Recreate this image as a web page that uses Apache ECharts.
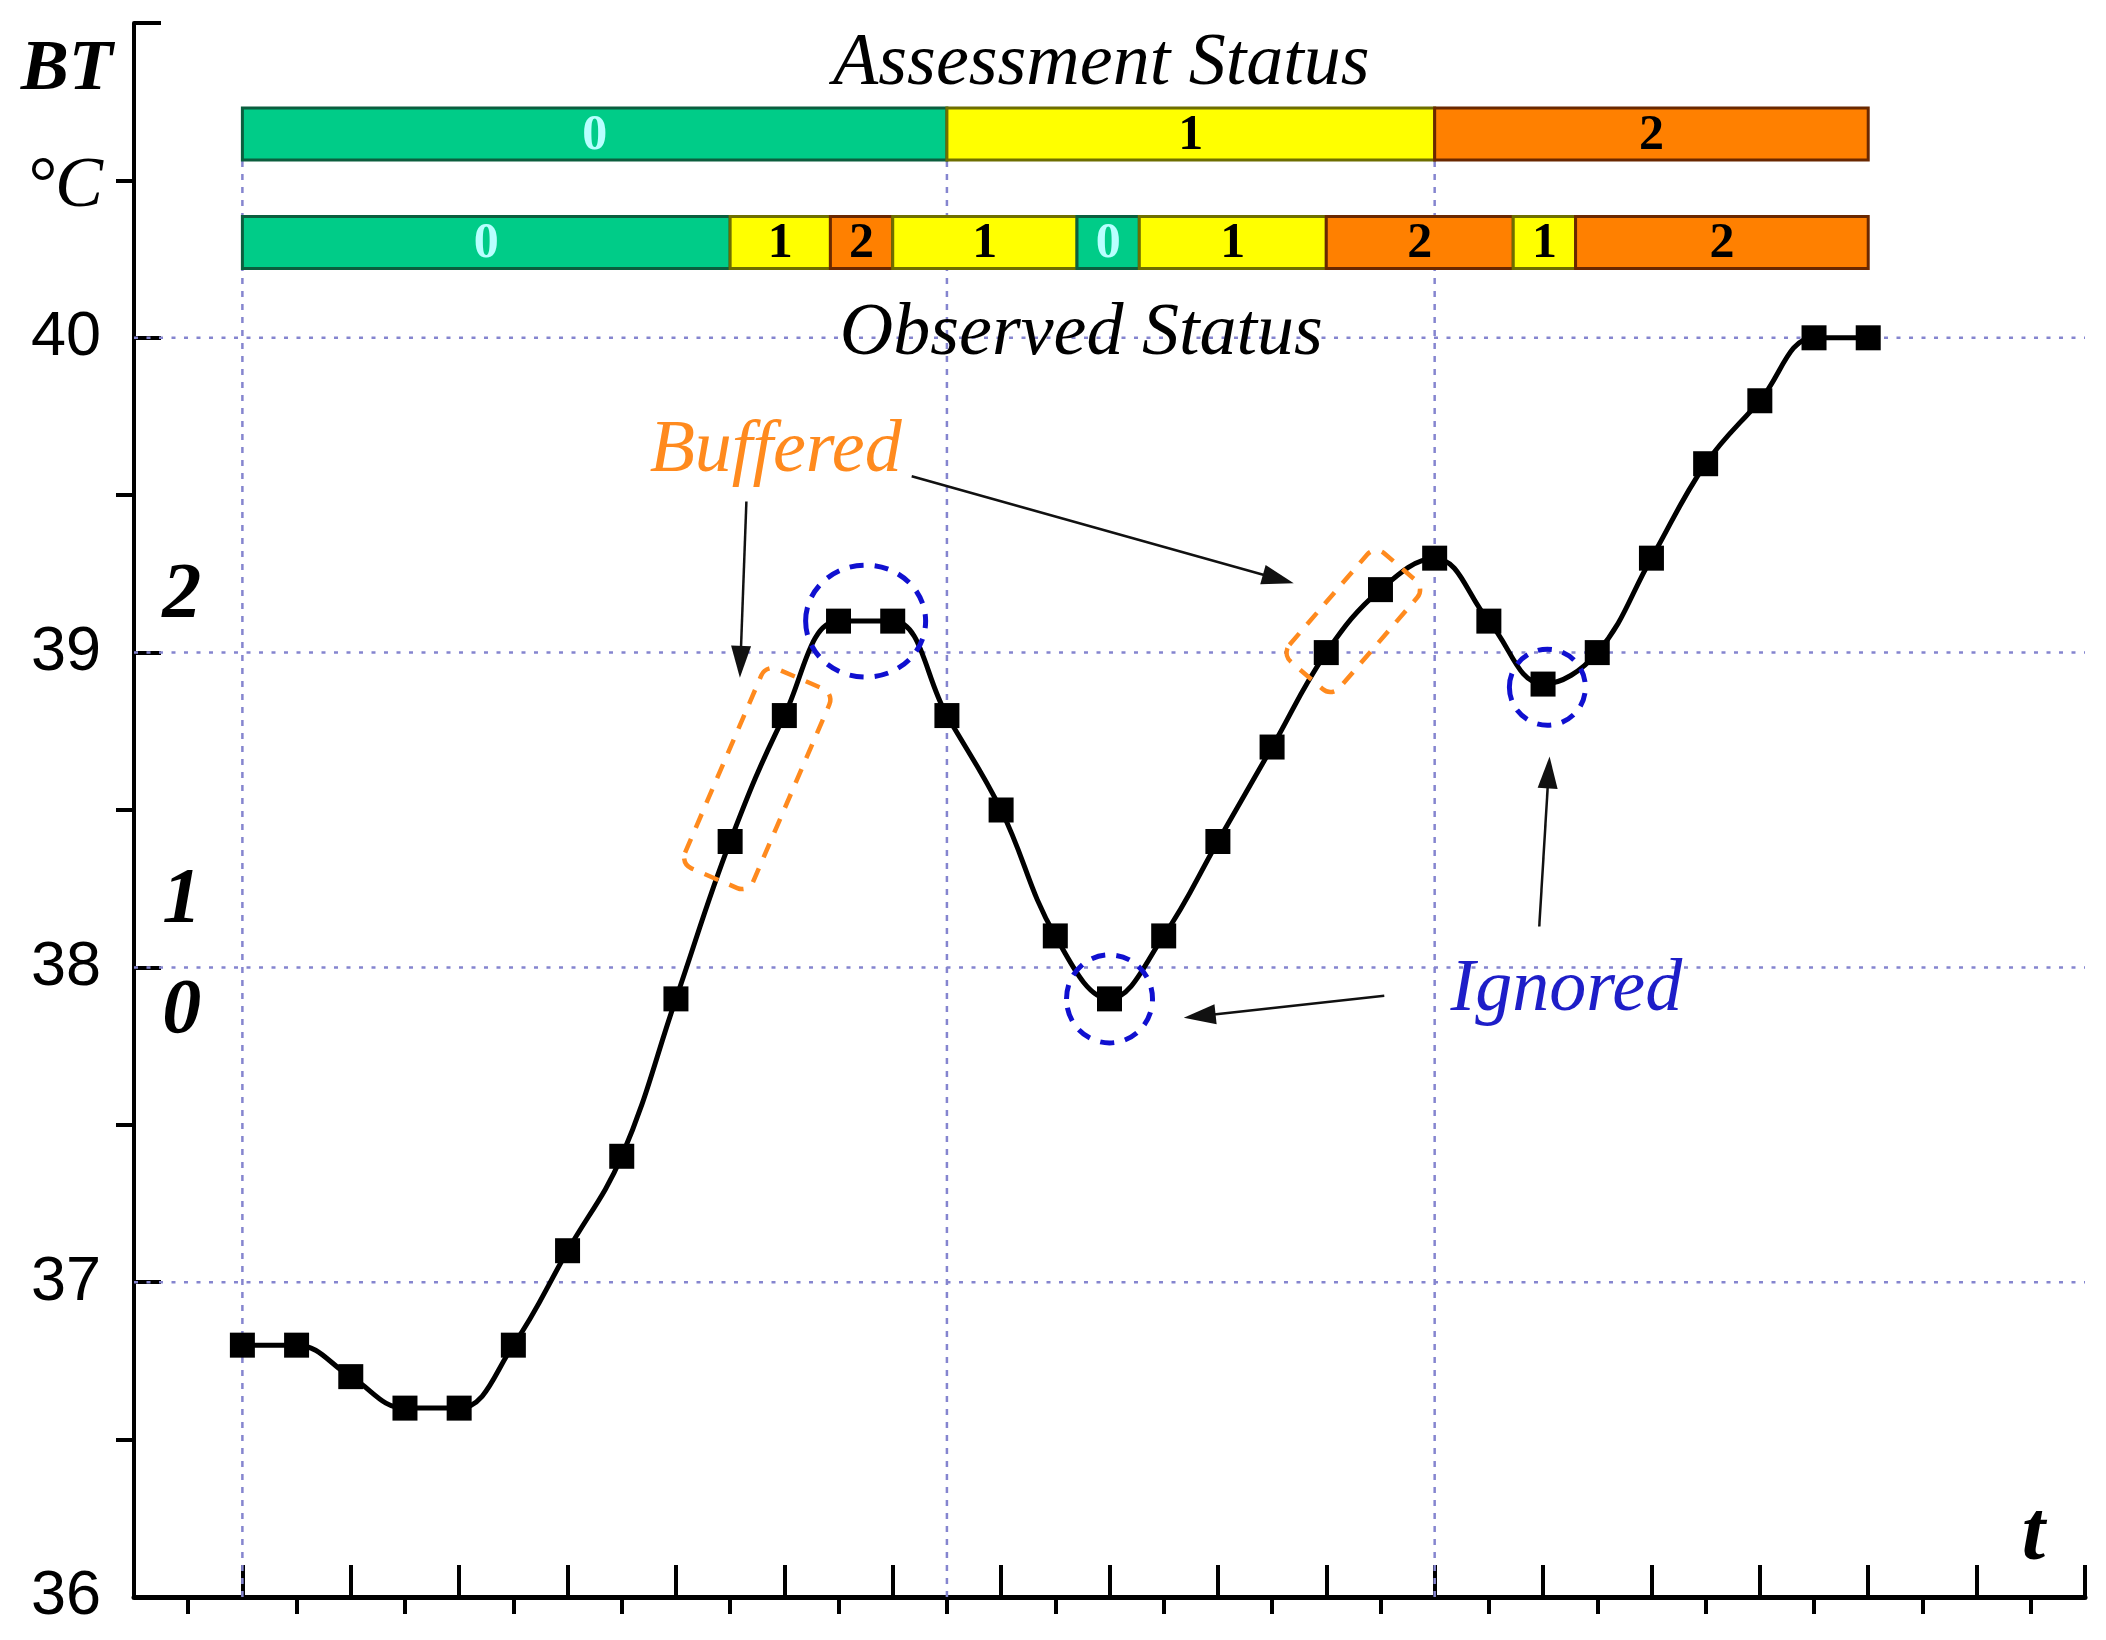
<!DOCTYPE html>
<html>
<head>
<meta charset="utf-8">
<script src="https://cdn.jsdelivr.net/npm/echarts@6/dist/echarts.min.js"></script>
<style>
  html, body { margin: 0; padding: 0; background: #fff; }
  #chart { width: 2106px; height: 1640px; }
</style>
</head>
<body>
<div id="chart"></div>
<script>
// time steps and measured body temperature (BT, °C)
const timeSteps = [2, 3, 4, 5, 6, 7, 8, 9, 10, 11, 12, 13, 14, 15, 16, 17, 18, 19, 20, 21, 22, 23, 24, 25, 26, 27, 28, 29, 30, 31, 32];
const bodyTemp = [36.8, 36.8, 36.7, 36.6, 36.6, 36.8, 37.1, 37.4, 37.9, 38.4, 38.8, 39.1, 39.1, 38.8, 38.5, 38.1, 37.9, 38.1, 38.4, 38.7, 39.0, 39.2, 39.3, 39.1, 38.9, 39.0, 39.3, 39.6, 39.8, 40.0, 40.0];

const yLabels = ['36', '37', '38', '39', '40'];

// status segments: [from, to, status]
const assessmentSegments = [[2, 15, 0], [15, 24, 1], [24, 32, 2]];
const observedSegments = [
    [2, 11, 0], [11, 12.85, 1], [12.85, 14, 2], [14, 17.4, 1], [17.4, 18.55, 0],
    [18.55, 22, 1], [22, 25.45, 2], [25.45, 26.6, 1], [26.6, 32, 2]
];

const gridTemps = [37, 38, 39, 40];
const gridTimes = [2, 15, 24];

// annotations (in data units)
const bufferedPairs = [[9, 10], [20, 21]];         // indexes of buffered point pairs
const ignoredCenters = [[13.5, 39.1], [18, 37.9], [26.08, 38.89]];
const arrows = [
    [11.30, 39.48, 11.18, 38.92],
    [14.35, 39.56, 21.40, 39.22],
    [23.07, 37.91, 19.37, 37.84],
    [25.93, 38.13, 26.12, 38.67]
];

const statusFill = ['#00cc88', '#ffff00', '#ff8000'];
const statusEdge = ['#0b5e3e', '#6e6e00', '#6a2800'];
const statusText = ['#b8ffff', '#000', '#000'];

const chart = echarts.init(document.getElementById('chart'));

function statusBars(segments, low, high) {
    return {
        type: 'custom',
        z: 4,
        silent: true,
        data: segments,
        renderItem: (params, api) => {
            const p1 = api.coord([api.value(0), high]);
            const p2 = api.coord([api.value(1), low]);
            const s = api.value(2);
            return {
                type: 'group',
                children: [
                    {
                        type: 'rect',
                        shape: { x: p1[0], y: p1[1], width: p2[0] - p1[0], height: p2[1] - p1[1] },
                        style: { fill: statusFill[s], stroke: statusEdge[s], lineWidth: 3 }
                    },
                    {
                        type: 'text',
                        style: {
                            text: String(s),
                            x: (p1[0] + p2[0]) / 2,
                            y: (p1[1] + p2[1]) / 2 + 2,
                            align: 'center',
                            verticalAlign: 'middle',
                            font: 'bold 50px "Liberation Serif"',
                            fill: statusText[s]
                        }
                    }
                ]
            };
        }
    };
}

chart.setOption({
    backgroundColor: '#fff',
    animation: false,
    grid: { left: 134, right: 21, top: 23, bottom: 43 },
    xAxis: [
        {
            type: 'value', min: 0, max: 36, interval: 2,
            axisLine: { lineStyle: { color: '#000', width: 5 } },
            axisTick: { inside: true, length: 32, lineStyle: { color: '#000', width: 4 } },
            axisLabel: { show: false },
            splitLine: { show: false }
        },
        {
            type: 'value', min: 0, max: 36, interval: 2, position: 'bottom',
            axisLine: { show: false },
            axisTick: { show: false },
            minorTick: { show: true, splitNumber: 2, length: 17, lineStyle: { color: '#000', width: 4 } },
            axisLabel: { show: false },
            splitLine: { show: false }
        }
    ],
    yAxis: [
        {
            type: 'value', min: 36, max: 41, interval: 1,
            axisLine: { show: true, lineStyle: { color: '#000', width: 4 } },
            axisTick: { inside: true, length: 27, lineStyle: { color: '#000', width: 4 } },
            axisLabel: {
                margin: 33,
                color: '#000',
                fontFamily: 'Liberation Sans',
                fontSize: 63,
                formatter: (v) => yLabels.includes(String(v)) ? String(v) : ''
            },
            splitLine: { show: false }
        },
        {
            type: 'value', min: 36, max: 41, interval: 1, position: 'left',
            axisLine: { show: false },
            axisTick: { show: false },
            minorTick: { show: true, splitNumber: 2, length: 18, lineStyle: { color: '#000', width: 4 } },
            axisLabel: { show: false },
            splitLine: { show: false }
        }
    ],
    series: [
        {
            type: 'custom',
            z: 1,
            silent: true,
            data: gridTemps.map(v => [v, 0]).concat(gridTimes.map(t => [t, 1])),
            renderItem: (params, api) => {
                const v = api.value(0);
                const vertical = api.value(1) === 1;
                const a = vertical ? api.coord([v, 36]) : api.coord([0, v]);
                const b = vertical ? api.coord([v, 40.6]) : api.coord([36, v]);
                return {
                    type: 'line',
                    shape: { x1: a[0], y1: a[1], x2: b[0], y2: b[1] },
                    style: {
                        stroke: '#8585cf',
                        lineWidth: 2.5,
                        lineDash: vertical ? [6, 7] : [4, 8.5]
                    }
                };
            }
        },
        statusBars(assessmentSegments, 40.565, 40.73),
        statusBars(observedSegments, 40.22, 40.385),
        {
            type: 'line',
            z: 5,
            data: timeSteps.map((t, i) => [t, bodyTemp[i]]),
            smooth: 0.4,
            symbol: 'rect',
            symbolSize: 25,
            itemStyle: { color: '#000' },
            lineStyle: { color: '#000', width: 5 }
        }
    ]
});

// annotations placed through the grid's scales
const px = (t, v) => chart.convertToPixel({ gridIndex: 0 }, [t, v]);
const elements = [];

function addText(text, t, v, font, color) {
    const p = px(t, v);
    elements.push({
        type: 'text', z: 30, x: p[0], y: p[1],
        style: { text, font, fill: color, align: 'center', verticalAlign: 'middle' }
    });
}

addText('Assessment Status', 17.85, 40.868, 'italic 74px "Liberation Serif"', '#000');
addText('Observed Status', 17.48, 40.01, 'italic 74px "Liberation Serif"', '#000');
addText('BT', -1.24, 40.85, 'bold italic 72px "Liberation Serif"', '#000');
addText('°C', -1.28, 40.48, 'italic 72px "Liberation Serif"', '#000');
addText('2', 0.88, 39.18, 'bold italic 78px "Liberation Serif"', '#000');
addText('1', 0.88, 38.21, 'bold italic 78px "Liberation Serif"', '#000');
addText('0', 0.88, 37.86, 'bold italic 78px "Liberation Serif"', '#000');
addText('t', 35.05, 36.19, 'bold italic 84px "Liberation Serif"', '#000');
addText('Buffered', 11.84, 39.64, 'italic 74px "Liberation Serif"', '#ff8a1e');
addText('Ignored', 26.43, 37.925, 'italic 74px "Liberation Serif"', '#1e1ec8');

// dashed boxes round buffered pairs
const boxPad = [40, 30];
const boxWidth = [74, 66];
bufferedPairs.forEach(([i, j], k) => {
    const a = px(timeSteps[i], bodyTemp[i]);
    const b = px(timeSteps[j], bodyTemp[j]);
    const dx = b[0] - a[0], dy = b[1] - a[1];
    const len = Math.hypot(dx, dy) + 2 * boxPad[k];
    const w = boxWidth[k];
    elements.push({
        type: 'rect', z: 25,
        x: (a[0] + b[0]) / 2, y: (a[1] + b[1]) / 2,
        rotation: -Math.atan2(dy, dx),
        shape: { x: -len / 2, y: -w / 2, width: len, height: w, r: 12 },
        style: { fill: 'none', stroke: '#ff8a1e', lineWidth: 4.5, lineDash: [15, 12] }
    });
});

// dashed circles round ignored points
const ringSize = [[60, 56], [43, 44], [38, 38]];
ignoredCenters.forEach(([t, v], k) => {
    const p = px(t, v);
    elements.push({
        type: 'ellipse', z: 25,
        shape: { cx: p[0], cy: p[1], rx: ringSize[k][0], ry: ringSize[k][1] },
        style: { fill: 'none', stroke: '#1010d0', lineWidth: 5, lineDash: [14, 11] }
    });
});

// arrows
arrows.forEach(([t1, v1, t2, v2]) => {
    const a = px(t1, v1);
    const b = px(t2, v2);
    const d = Math.hypot(b[0] - a[0], b[1] - a[1]);
    const ux = (b[0] - a[0]) / d, uy = (b[1] - a[1]) / d;
    const headL = 32, headW = 10;
    const bx = b[0] - ux * headL, by = b[1] - uy * headL;
    elements.push({
        type: 'line', z: 25,
        shape: { x1: a[0], y1: a[1], x2: bx + ux * 4, y2: by + uy * 4 },
        style: { stroke: '#111', lineWidth: 2.5 }
    });
    elements.push({
        type: 'polygon', z: 25,
        shape: { points: [[b[0], b[1]], [bx - uy * headW, by + ux * headW], [bx + uy * headW, by - ux * headW]] },
        style: { fill: '#111' }
    });
});

chart.setOption({ graphic: { elements } });
</script>
</body>
</html>
